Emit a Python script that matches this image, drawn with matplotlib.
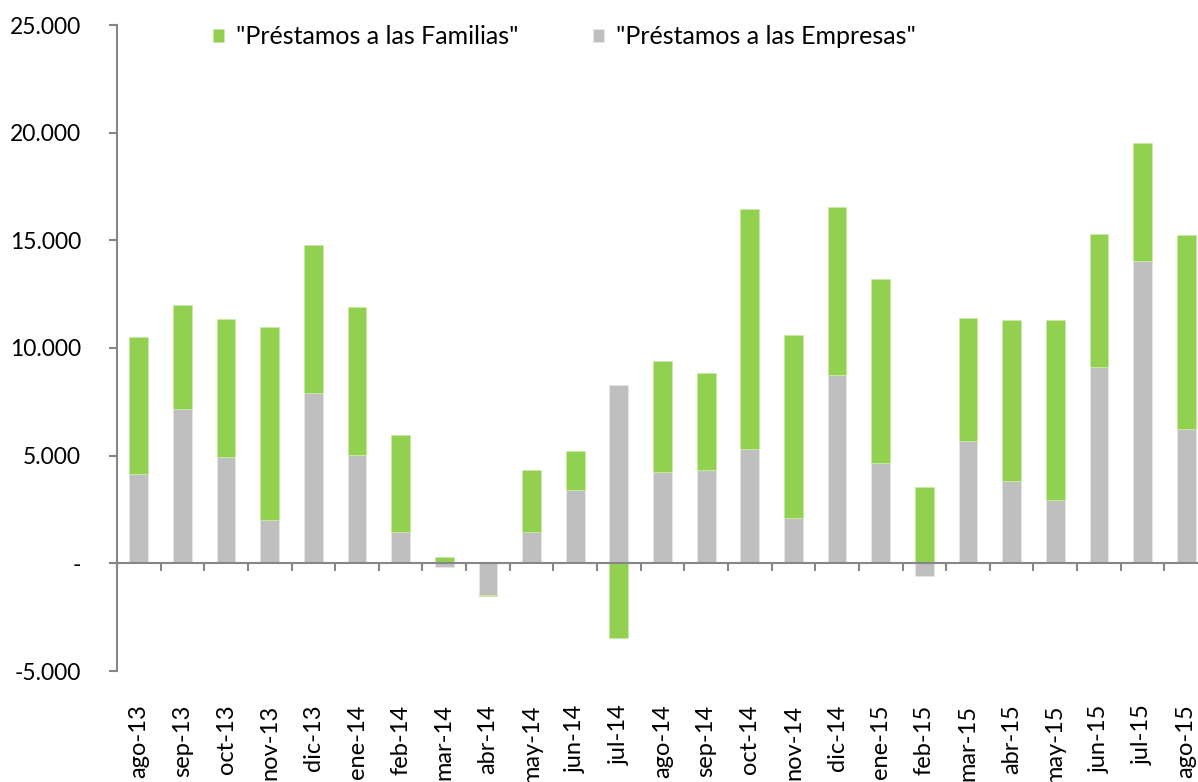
import numpy as np
import matplotlib.pyplot as plt
from matplotlib.ticker import FuncFormatter

meses = ["ago-13", "sep-13", "oct-13", "nov-13", "dic-13", "ene-14", "feb-14",
         "mar-14", "abr-14", "may-14", "jun-14", "jul-14", "ago-14", "sep-14",
         "oct-14", "nov-14", "dic-14", "ene-15", "feb-15", "mar-15", "abr-15",
         "may-15", "jun-15", "jul-15", "ago-15"]
empresas = [4150, 7170, 4950, 2000, 7900, 5050, 1450, -150, -1450, 1450, 3400,
            8300, 4250, 4330, 5300, 2100, 8750, 4650, -580, 5700, 3830, 2950,
            9120, 14030, 6250]
familias = [6350, 4830, 6400, 8980, 6880, 6860, 4500, 300, -80, 2880, 1820,
            -3470, 5150, 4500, 11150, 8500, 7800, 8550, 3550, 5700, 7480, 8350,
            6180, 5480, 8990]

plt.rcParams['font.family'] = ['Lato', 'DejaVu Sans']

GREEN = '#92D050'
GRAY = '#BFBFBF'
AXCOL = '#868686'

emp = np.array(empresas)
fam = np.array(familias)
x = np.arange(len(meses))
# stack green on gray only when both go the same way
base = np.where(np.sign(emp) == np.sign(fam), emp, 0)

fig = plt.figure(figsize=(11.98, 7.82), dpi=100)
ax = fig.add_axes([117 / 1198, 111 / 782, 1091 / 1198, 646 / 782])

w = 0.43
ax.bar(x, emp, w, color=GRAY, edgecolor='#e6e6e6', linewidth=0.6,
       label='"Préstamos a las Empresas"', zorder=2)
ax.bar(x, fam, w, bottom=base, color=GREEN, edgecolor='#c8eaa6', linewidth=0.6,
       label='"Préstamos a las Familias"', zorder=2)

ax.set_xlim(-0.5, len(meses) - 0.5)
ax.set_ylim(-5000, 25000)
ax.set_yticks(np.arange(-5000, 25001, 5000))


def fmt(v, pos):
    if v == 0:
        return '-'
    return '{:,.0f}'.format(v).replace(',', '.')


ax.yaxis.set_major_formatter(FuncFormatter(fmt))
ax.tick_params(axis='y', direction='out', length=6, width=1.5, color=AXCOL,
               labelsize=16.5, pad=20)

for s in ['top', 'right']:
    ax.spines[s].set_visible(False)
ax.spines['left'].set_color(AXCOL)
ax.spines['left'].set_linewidth(1.5)
ax.spines['bottom'].set_position(('data', 0))
ax.spines['bottom'].set_color(AXCOL)
ax.spines['bottom'].set_linewidth(1.5)

ax.set_xticks(np.arange(0.5, len(meses) - 0.5, 1))
ax.set_xticklabels([])
ax.tick_params(axis='x', direction='out', length=6, width=1.5, color=AXCOL)

# category labels at the bottom of the plot area
for i, m in enumerate(meses):
    ax.text(i, -0.052, m, transform=ax.get_xaxis_transform(), rotation=90,
            ha='center', va='top', fontsize=17)

h, l = ax.get_legend_handles_labels()
fig.legend(h[::-1], l[::-1], loc='center left',
           bbox_to_anchor=(213 / 1198, 1 - 37 / 782), borderaxespad=0,
           borderpad=0, ncol=2, frameon=False, fontsize=18, handlelength=0.45,
           handleheight=0.45, handletextpad=0.45, columnspacing=3.0)

fig.savefig('out.png', dpi=100, facecolor='w')
